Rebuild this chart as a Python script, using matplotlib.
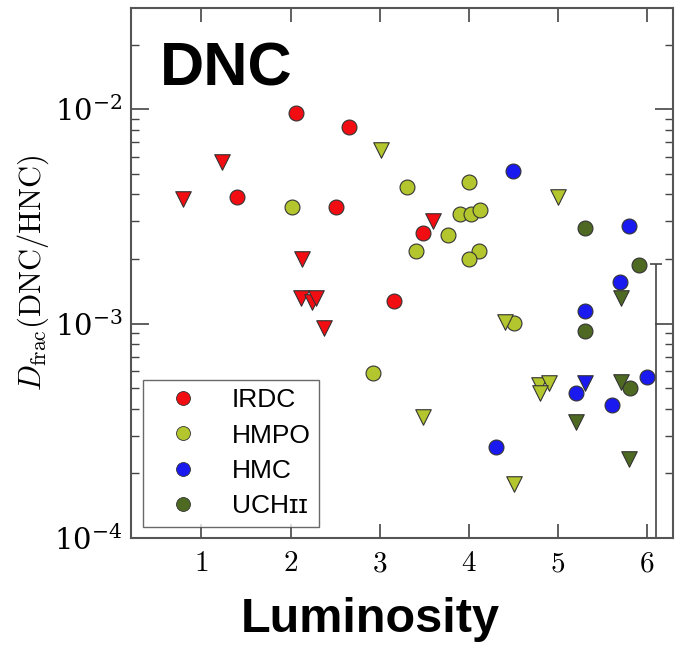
import matplotlib
matplotlib.use("Agg")
import matplotlib.pyplot as plt
from matplotlib.lines import Line2D

plt.rcParams['mathtext.fontset'] = 'cm'
plt.rcParams['font.family'] = ['DejaVu Serif']

# ---- data (x = log luminosity, y = Dfrac) ----
irdc_det_x = [2.06, 2.66, 1.40, 2.51, 3.48, 3.16]
irdc_det_y = [0.00958, 0.00824, 0.00388, 0.00348, 0.00264, 0.00128]
irdc_lim_x = [0.79, 1.235, 2.13, 2.12, 2.24, 2.28, 2.38, 3.60]
irdc_lim_y = [0.0038, 0.00565, 0.00201, 0.00131, 0.00126, 0.00131, 0.000957, 0.0030]

hmpo_det_x = [2.02, 3.31, 4.00, 3.90, 4.02, 4.12, 3.77, 3.41, 4.11, 4.00, 4.51, 2.93]
hmpo_det_y = [0.00348, 0.00433, 0.00456, 0.00323, 0.00323, 0.00337, 0.0026, 0.00219,
              0.00219, 0.00199, 0.00101, 0.00059]
hmpo_lim_x = [3.01, 5.00, 4.40, 3.48, 4.51, 4.79, 4.90, 4.80]
hmpo_lim_y = [0.00643, 0.00388, 0.00102, 0.000367, 0.000179, 0.000515, 0.00053, 0.000476]

hmc_det_x = [4.49, 5.80, 5.70, 5.30, 6.00, 5.20, 5.61, 4.31]
hmc_det_y = [0.00513, 0.00284, 0.00156, 0.00115, 0.000565, 0.000476, 0.000419, 0.000266]
hmc_lim_x = [5.30]
hmc_lim_y = [0.00053]

uch_det_x = [5.30, 5.91, 5.30, 5.81]
uch_det_y = [0.00278, 0.00187, 0.000919, 0.000502]
uch_lim_x = [5.71, 5.71, 5.20, 5.80]
uch_lim_y = [0.00132, 0.000536, 0.000348, 0.000234]

err_x = [6.1]
err_y = [1e-3]
err_dy = [0.9e-3]

labels = ['IRDC', 'HMPO', 'HMC', 'UCHɪɪ']
colors = ['#f20d12', '#b4c62e', '#1a1af0', '#4e6a22']
xticks = [1, 2, 3, 4, 5, 6]

fig = plt.figure(figsize=(6.75, 6.47), dpi=100)
ax = fig.add_axes([131/675, 1-538/647, (673-131)/675, (538-8)/647])

groups = [
    (irdc_det_x, irdc_det_y, irdc_lim_x, irdc_lim_y),
    (hmpo_det_x, hmpo_det_y, hmpo_lim_x, hmpo_lim_y),
    (hmc_det_x, hmc_det_y, hmc_lim_x, hmc_lim_y),
    (uch_det_x, uch_det_y, uch_lim_x, uch_lim_y),
]
for (dx, dy, lx, ly), c in zip(groups, colors):
    ax.scatter(dx, dy, s=115, marker='o', c=c, edgecolors='#333333', linewidths=0.8, zorder=3)
    ax.scatter(lx, ly, s=125, marker='v', c=c, edgecolors='#333333', linewidths=0.8, zorder=3)

ax.errorbar(err_x, err_y, yerr=err_dy, fmt='none', ecolor='#444444', elinewidth=1.2,
            capsize=4, capthick=1.2, zorder=2)

ax.set_yscale('log')
ax.set_xlim(0.21, 6.29)
ax.set_ylim(1e-4, 0.0296)
ax.set_xticks(xticks)
ax.set_xticklabels([f'${t}$' for t in xticks])
ax.xaxis.set_minor_locator(matplotlib.ticker.NullLocator())
ax.tick_params(axis='both', which='both', direction='in', top=True, right=True,
               colors='#444444', labelcolor='black', labelsize=21)
ax.tick_params(axis='x', which='major', length=10, width=1.2, pad=8)
ax.tick_params(axis='y', which='major', length=13, width=1.2, pad=6)
ax.tick_params(axis='y', which='minor', length=6, width=1.0)
for sp in ax.spines.values():
    sp.set_color('#555555')
    sp.set_linewidth(1.5)

ax.set_ylabel(r'$D_{\rm frac}({\rm DNC/HNC})$', fontsize=22, labelpad=2)

handles = [Line2D([], [], marker='o', ls='none', markersize=10, markerfacecolor=c,
                  markeredgecolor='#333333', markeredgewidth=0.6) for c in colors]
leg = ax.legend(handles, labels, loc='lower left',
                bbox_to_anchor=(0.022, 0.021), borderaxespad=0, frameon=True, fancybox=False,
                prop={'family': 'Liberation Sans', 'size': 19}, handletextpad=0.65,
                labelspacing=0.43, borderpad=0.32, handlelength=2.4)
leg.get_frame().set_edgecolor('#444444')
leg.get_frame().set_linewidth(1.0)

fig.text(160/675, 1-85/647, 'DNC', fontsize=44, fontweight='bold',
         family='Liberation Sans', va='baseline', ha='left')
fig.text(370/675, 1-620/647, 'Luminosity', fontsize=35, fontweight='bold',
         family='Liberation Sans', va='center', ha='center')

fig.savefig('out.png', dpi=100)
